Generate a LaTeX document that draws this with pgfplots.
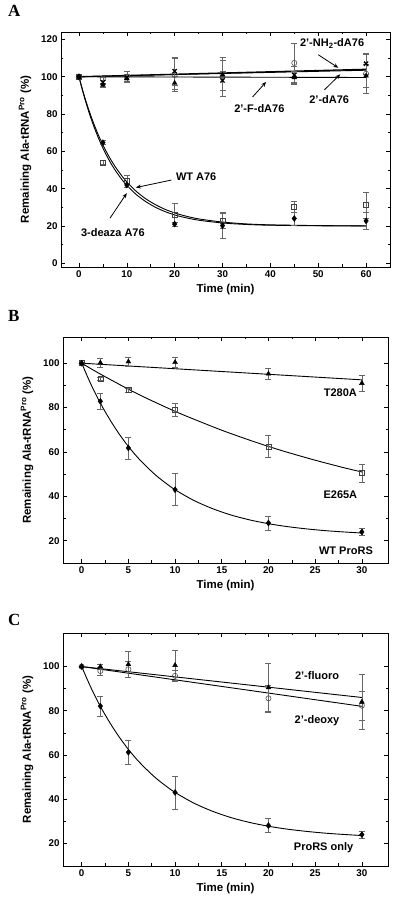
\documentclass[border=0pt]{standalone}
\usepackage{pgfplots}
\pgfplotsset{compat=1.18}
\usepackage{fontspec}
\setmainfont{Liberation Sans}
\newfontfamily\serifb{Liberation Serif}
\usetikzlibrary{arrows.meta}
\pgfplotsset{
  panel/.style={
    scale only axis,
    axis line style={black, line width=0.8pt},
    tick style={black, line width=0.6pt},
    major tick length=4pt, minor tick length=2.5pt,
    minor x tick num=1, minor y tick num=1,
    /pgf/number format/assume math mode=true,
    ticklabel style={font=\bfseries\fontsize{9.8}{11}\selectfont},
    label style={font=\bfseries\fontsize{11.5}{13}\selectfont},
    xlabel={Time (min)},
    ylabel={Remaining Ala-tRNA\textsuperscript{Pro} (\%)},
    ylabel style={yshift=3pt},
    xlabel style={yshift=0pt},
    clip=false,
  },
  eb/.style={error bars/.cd, y dir=both, y explicit,
    error bar style={black!60, line width=0.5pt},
    error mark options={rotate=90, mark size=3pt, black!60, line width=0.5pt}},
  fit/.style={black, line width=0.9pt, no marks},
}
\tikzset{
  ann/.style={font=\bfseries\fontsize{11}{12}\selectfont},
  arr/.style={black, line width=0.8pt, -{Stealth[length=5pt,width=4pt]}},
}
\begin{document}
\begin{tikzpicture}
\useasboundingbox (0,0) rectangle (400pt,908pt);
\node[anchor=north west, font=\serifb\bfseries\fontsize{17}{18}\selectfont, inner sep=0pt] at (8pt,903pt) {A};
\node[anchor=north west, font=\serifb\bfseries\fontsize{17}{18}\selectfont, inner sep=0pt] at (8pt,598pt) {B};
\node[anchor=north west, font=\serifb\bfseries\fontsize{17}{18}\selectfont, inner sep=0pt] at (8pt,294pt) {C};

% ---------------- Panel A ----------------
\begin{axis}[panel, at={(61pt,876pt)}, anchor=north west,
  width=329pt, height=235pt,
  xmin=-3.75, xmax=65, ymin=-2, ymax=124,
  xtick={0,10,20,30,40,50,60}, ytick={0,20,40,60,80,100,120}]
% fits
\addplot[fit, line width=1.3pt] coordinates {(0,100) (60,104)};
\addplot[fit] coordinates {(0,100) (60,103.5)};
\addplot[fit] coordinates {(0,100) (60,99.6)};
\addplot[fit, smooth] coordinates {(0,100) (1,90.2) (2,81.7) (3,74.2) (4,67.6) (5,61.8) (6,56.7) (7,52.2) (8,48.3) (9,44.8) (10,41.8) (12,36.8) (14,33.0) (16,30.0) (18,27.7) (20,25.9) (22,24.6) (25,23.1) (30,21.6) (35,20.8) (40,20.4) (50,20.1) (60,20.0)};
\addplot[fit, smooth] coordinates {(0,100) (1,90.8) (2,82.7) (3,75.5) (4,69.1) (5,63.5) (6,58.5) (7,54.1) (8,50.2) (9,46.7) (10,43.6) (12,38.5) (14,34.5) (16,31.4) (18,28.9) (20,27.0) (22,25.5) (25,23.8) (30,22.1) (35,21.1) (40,20.6) (50,20.2) (60,20.05)};
% 2'-dA76 open circles
\addplot[only marks, mark=o, mark size=2.6pt, mark options={black!70, line width=0.6pt}, eb] coordinates {
 (0,100) +- (0,0) (5,99) +- (0,1) (10,100) +- (0,3) (20,101) +- (0,9) (30,100) +- (0,10.5) (45,107.4) +- (0,10.5) (60,101.6) +- (0,10.5)};
% 2'-F-dA76 triangles
\addplot[only marks, mark=triangle*, mark size=2.8pt, mark options={black}, eb] coordinates {
 (0,100) +- (0,0) (5,95.5) +- (0,1) (10,99) +- (0,2) (20,96.6) +- (0,3.5) (30,101) +- (0,8) (45,99.6) +- (0,3.5) (60,100.5) +- (0,6)};
% 2'-NH2-dA76 crosses
\addplot[only marks, mark=x, mark size=3pt, mark options={black, line width=1.3pt}, eb] coordinates {
 (0,100) +- (0,0) (5,97) +- (0,1) (10,99.5) +- (0,2) (20,103) +- (0,7.5) (30,98) +- (0,5) (45,101) +- (0,4.5) (60,107) +- (0,5.5)};
% WT A76 open squares
\addplot[only marks, mark=square, mark size=2.5pt, mark options={black!75, line width=0.6pt}, eb] coordinates {
 (0,100) +- (0,0) (5,54) +- (0,1) (10,44) +- (0,3) (20,26) +- (0,6) (30,23) +- (0,4) (45,30.3) +- (0,3) (60,31.3) +- (0,7)};
% 3-deaza A76 diamonds
\addplot[only marks, mark=diamond*, mark size=3pt, mark options={black}, eb] coordinates {
 (0,100) +- (0,0) (5,64.7) +- (0,1) (10,42) +- (0,1) (20,21) +- (0,1.2) (30,20.2) +- (0,7) (45,24) +- (0,3.4) (60,22.7) +- (0,4.5)};
% annotations
\node[ann] at (axis cs:52.9,117.7) {2'-NH\textsubscript{2}-dA76};
\draw[arr] (axis cs:50,111.8) -- (axis cs:54.2,104.8);
\node[ann] at (axis cs:52.3,87.6) {2'-dA76};
\draw[arr] (axis cs:51.3,93) -- (axis cs:54.6,101.3);
\node[ann] at (axis cs:37.7,82.8) {2'-F-dA76};
\draw[arr] (axis cs:36.3,89.2) -- (axis cs:39.1,97.2);
\node[ann] at (axis cs:24.5,46.2) {WT A76};
\draw[arr] (axis cs:19.3,44.6) -- (axis cs:11.9,40.6);
\node[ann] at (axis cs:7.1,16.7) {3-deaza A76};
\draw[arr] (axis cs:6.5,24.2) -- (axis cs:10,37.6);
\end{axis}

% ---------------- Panel B ----------------
\begin{axis}[panel, at={(63pt,571pt)}, anchor=north west,
  width=325pt, height=226pt,
  xmin=-2, xmax=32.8, ymin=10, ymax=111.8,
  xtick={0,5,10,15,20,25,30}, ytick={20,40,60,80,100}]
\addplot[fit] coordinates {(0,100) (10,97.5) (20,95) (30,92.5)};
\addplot[fit, smooth] coordinates {(0,100) (1,97.5) (2,95.1) (3,92.8) (5,88.3) (7,84.1) (10,78.3) (12,74.8) (15,69.8) (18,65.3) (20,62.5) (22,59.9) (25,56.3) (28,53.0) (30,51.0)};
\addplot[fit, smooth] coordinates {(0,100) (1,90.4) (2,82.0) (3,74.7) (4,68.2) (5,62.5) (6,57.5) (7,53.2) (8,49.3) (9,46.0) (10,43.0) (12,38.2) (14,34.5) (16,31.6) (18,29.4) (20,27.7) (22,26.4) (24,25.4) (26,24.6) (28,24.0) (30,23.5)};
% T280A
\addplot[only marks, mark=triangle*, mark size=2.8pt, mark options={black}, eb] coordinates {
 (0,100) +- (0,0) (2,100.2) +- (0,2.2) (5,100.7) +- (0,2) (10,100.4) +- (0,2.3) (20,95.2) +- (0,2.4) (30,91) +- (0,3.5)};
% E265A
\addplot[only marks, mark=square, mark size=2.5pt, mark options={black!75, line width=0.6pt}, eb] coordinates {
 (0,100) +- (0,0) (2,93) +- (0,0.5) (5,87.9) +- (0,1) (10,79) +- (0,3) (20,62.5) +- (0,5) (30,50.5) +- (0,4.2)};
% WT ProRS
\addplot[only marks, mark=diamond*, mark size=3pt, mark options={black}, eb] coordinates {
 (0,100) +- (0,0) (2,82.8) +- (0,3.7) (5,61.8) +- (0,5) (10,43) +- (0,7.2) (20,28) +- (0,3.2) (30,24) +- (0,1.5)};
\node[ann] at (axis cs:27.7,86.6) {T280A};
\node[ann] at (axis cs:27.7,40.7) {E265A};
\node[ann] at (axis cs:28.3,15.5) {WT ProRS};
\end{axis}

% ---------------- Panel C ----------------
\begin{axis}[panel, at={(63pt,275pt)}, anchor=north west,
  width=325pt, height=233pt,
  xmin=-2, xmax=32.8, ymin=9.7, ymax=115.2,
  xtick={0,5,10,15,20,25,30}, ytick={20,40,60,80,100}]
\addplot[fit] coordinates {(0,100) (30,86)};
\addplot[fit] coordinates {(0,100) (30,82)};
\addplot[fit, smooth] coordinates {(0,100) (1,90.4) (2,82.0) (3,74.7) (4,68.2) (5,62.5) (6,57.5) (7,53.2) (8,49.3) (9,46.0) (10,43.0) (12,38.2) (14,34.5) (16,31.6) (18,29.4) (20,27.7) (22,26.4) (24,25.4) (26,24.6) (28,24.0) (30,23.5)};
% 2'-deoxy circles
\addplot[only marks, mark=o, mark size=2.6pt, mark options={black!70, line width=0.6pt}, eb] coordinates {
 (0,100) +- (0,0) (2,98) +- (0,1.8) (5,98.8) +- (0,3.5) (10,95.8) +- (0,2.5) (20,85.6) +- (0,6) (30,82.3) +- (0,6.5)};
% 2'-fluoro triangles
\addplot[only marks, mark=triangle*, mark size=2.8pt, mark options={black}, eb] coordinates {
 (0,100) +- (0,0) (2,100) +- (0,1) (5,101) +- (0,6) (10,100.6) +- (0,6.7) (20,90.5) +- (0,11) (30,84) +- (0,12.5)};
% ProRS only
\addplot[only marks, mark=diamond*, mark size=3pt, mark options={black}, eb] coordinates {
 (0,100) +- (0,0) (2,82.1) +- (0,4.6) (5,61.2) +- (0,5.6) (10,43) +- (0,7.4) (20,28) +- (0,3.2) (30,23.9) +- (0,1.5)};
\node[ann] at (axis cs:25.2,95.7) {2'-fluoro};
\node[ann] at (axis cs:25.2,75.7) {2'-deoxy};
\node[ann] at (axis cs:25.9,18.2) {ProRS only};
\end{axis}
\end{tikzpicture}
\end{document}
